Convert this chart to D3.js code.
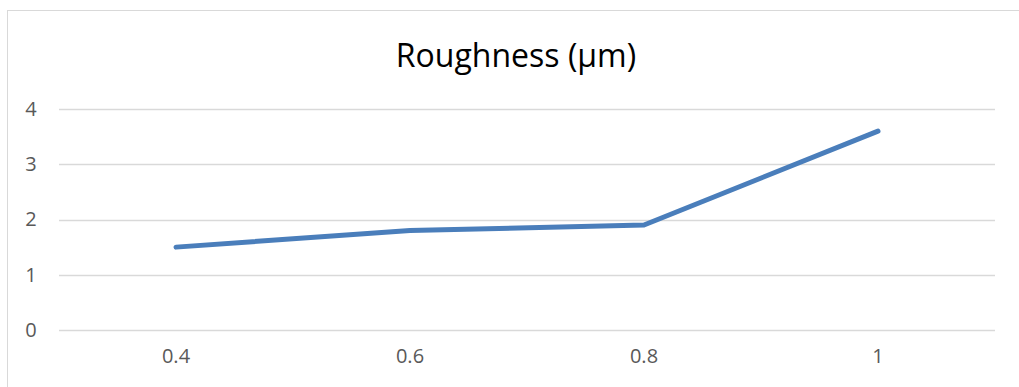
<!DOCTYPE html>
<html>
<head>
<meta charset="utf-8">
<script src="https://cdn.jsdelivr.net/npm/d3@7"></script>
<style>
  html, body { margin: 0; padding: 0; background: #fff; }
  svg { display: block; }
</style>
</head>
<body>
<svg id="chart" width="1019" height="387"></svg>
<script>
// Roughness by parameter setting
const categories = ["0.4", "0.6", "0.8", "1"];
const roughness = [1.5, 1.8, 1.9, 3.6];
const yTicks = [0, 1, 2, 3, 4];
const chartTitle = "Roughness (µm)";

const width = 1019, height = 387;
const plot = { left: 59, right: 995, top: 109, bottom: 330 };
const font = "'Open Sans', 'Noto Sans', sans-serif";

const svg = d3.select("#chart");

// chart frame
svg.append("rect")
  .attr("x", 7.5).attr("y", 10.5)
  .attr("width", 1030).attr("height", 400)
  .attr("fill", "#fff")
  .attr("stroke", "#d9d9d9").attr("stroke-width", 1);

const x = d3.scaleBand().domain(categories).range([plot.left, plot.right]);
const y = d3.scaleLinear().domain([0, 4]).range([plot.bottom, plot.top]);

// horizontal gridlines
svg.append("g")
  .selectAll("line")
  .data(yTicks)
  .join("line")
  .attr("x1", plot.left).attr("x2", plot.right)
  .attr("y1", d => Math.round(y(d)) + 0.5)
  .attr("y2", d => Math.round(y(d)) + 0.5)
  .attr("stroke", "#d9d9d9").attr("stroke-width", 1.3);

// y axis labels
const yAxis = d3.axisLeft(y).tickValues(yTicks).tickSize(0).tickPadding(0)
  .tickFormat(d3.format("d"));
svg.append("g")
  .attr("transform", "translate(36,0)")
  .call(yAxis)
  .call(g => g.select(".domain").remove())
  .call(g => g.selectAll("text")
    .attr("text-anchor", "middle").attr("x", -5)
    .attr("fill", "#595959")
    .style("font-family", font).style("font-size", "20px"));

// x axis labels
const xAxis = d3.axisBottom(x).tickSize(0).tickPadding(0);
svg.append("g")
  .attr("transform", `translate(0,${plot.bottom + 19})`)
  .call(xAxis)
  .call(g => g.select(".domain").remove())
  .call(g => g.selectAll("text")
    .attr("fill", "#595959")
    .style("font-family", font).style("font-size", "20px"));

// data line
const line = d3.line()
  .x((d, i) => x(categories[i]) + x.bandwidth() / 2)
  .y(d => y(d));

svg.append("path")
  .datum(roughness)
  .attr("d", line)
  .attr("fill", "none")
  .attr("stroke", "#4a7ebb")
  .attr("stroke-width", 5)
  .attr("stroke-linecap", "round")
  .attr("stroke-linejoin", "round");

// title
svg.append("text")
  .attr("x", 516).attr("y", 67)
  .attr("text-anchor", "middle")
  .attr("fill", "#000")
  .style("font-family", font).style("font-size", "32px")
  .text(chartTitle);
</script>
</body>
</html>
